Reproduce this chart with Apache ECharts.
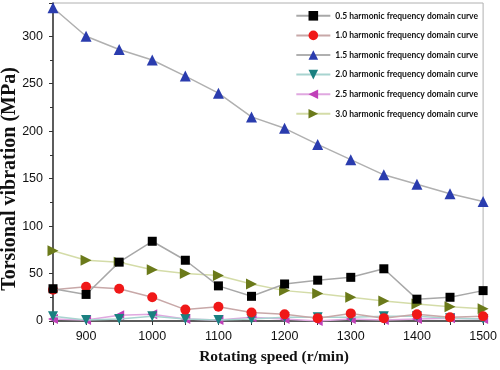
<!DOCTYPE html>
<html><head><meta charset="utf-8">
<script src="https://cdn.jsdelivr.net/npm/echarts@6/dist/echarts.min.js"></script>
<style>html,body{margin:0;padding:0;background:#fff}#c{width:500px;height:370px}</style>
</head><body><div id="c"></div>
<script>
const speeds = [850,900,950,1000,1050,1100,1150,1200,1250,1300,1350,1400,1450,1500];
const h05 = [34,28,62,84,64,37,26,39,43,46,55,23,25,32];
const h10 = [33,36,34,25,12,15,9,7,3,8,3,7,4,5];
const h15 = [330,300,286,275,258,240,215,203,186,170,154,144,134,126];
const h20 = [5,1,2,5,2,1,2,4,4,4,5,5,3,2];
const h25 = [2,1,6,7,2,1,4,2,0,2,1,2,3,2];
const h30 = [74,64,62,54,50,48,39,32,29,25,21,18,15,13];
const names = ['0.5 harmonic frequency domain curve','1.0 harmonic frequency domain curve','1.5 harmonic frequency domain curve','2.0 harmonic frequency domain curve','2.5 harmonic frequency domain curve','3.0 harmonic frequency domain curve'];
const xTitle = 'Rotating speed (r/min)';
const yTitle = 'Torsional vibration (MPa)';

const pair = arr => speeds.map((s,i)=>[s,arr[i]]);
const defs = [
 {d:h05, sym:'rect', mc:'#000000', lc:'#a8a8a8', size:9},
 {d:h10, sym:'circle', mc:'#f01818', lc:'#c8a8a8', size:10},
 {d:h15, sym:'triangle', mc:'#2a3cae', lc:'#b0b0b0', size:11, rot:0},
 {d:h20, sym:'triangle', mc:'#1a8080', lc:'#a8d4d0', size:10, rot:180},
 {d:h25, sym:'triangle', mc:'#c040b8', lc:'#e0a8e0', size:10, rot:90},
 {d:h30, sym:'triangle', mc:'#6b7a1a', lc:'#d4dca8', size:11, rot:-90}
];
const series = defs.map((o,i)=>({
  name:names[i], type:'line', data:pair(o.d), symbol:o.sym, symbolSize:o.size,
  symbolRotate:o.rot||0,
  itemStyle:{color:o.mc}, lineStyle:{color:o.lc,width:1.5}, z:10-i
}));
const chart = echarts.init(document.getElementById('c'));
chart.setOption({
  animation:false,
  grid:{left:53,right:16,top:3,bottom:43,show:true,borderColor:'#b0b0b0',borderWidth:1},
  legend:{orient:'vertical',right:17,top:6,itemGap:10,itemWidth:34,itemHeight:12,
    textStyle:{fontFamily:'Lato',fontWeight:'bold',fontSize:8.5,color:'#111'},
    data:names.map(n=>({name:n}))},
  graphic:[{type:'text',x:10,y:179,rotation:Math.PI/2,
    style:{text:yTitle,font:'bold 20px "Liberation Serif"',fill:'#111',align:'center',verticalAlign:'middle'}}],
  xAxis:{type:'value',min:850,max:1500,interval:50,
    name:xTitle,nameLocation:'middle',nameGap:28,
    nameTextStyle:{fontFamily:'Liberation Serif',fontWeight:'bold',fontSize:15.5,color:'#111',padding:[0,0,0,12]},
    axisLine:{lineStyle:{color:'#333',width:1.5}},
    axisTick:{inside:false,length:4,lineStyle:{color:'#333'}},
    axisLabel:{fontFamily:'Liberation Sans',fontSize:12.5,color:'#111',margin:9,
      formatter:v=> (v%100===0)?String(v):''},
    splitLine:{show:false}},
  yAxis:{type:'value',min:0,max:335,interval:50,
    axisLine:{lineStyle:{color:'#333',width:1.5}},
    axisTick:{inside:false,length:4,lineStyle:{color:'#333'}},
    minorTick:{show:true,splitNumber:2,length:3,lineStyle:{color:'#333'}},
    axisLabel:{fontFamily:'Liberation Sans',fontSize:12.5,color:'#111',margin:10,showMaxLabel:false},
    splitLine:{show:false}},
  series:series
});
</script></body></html>
